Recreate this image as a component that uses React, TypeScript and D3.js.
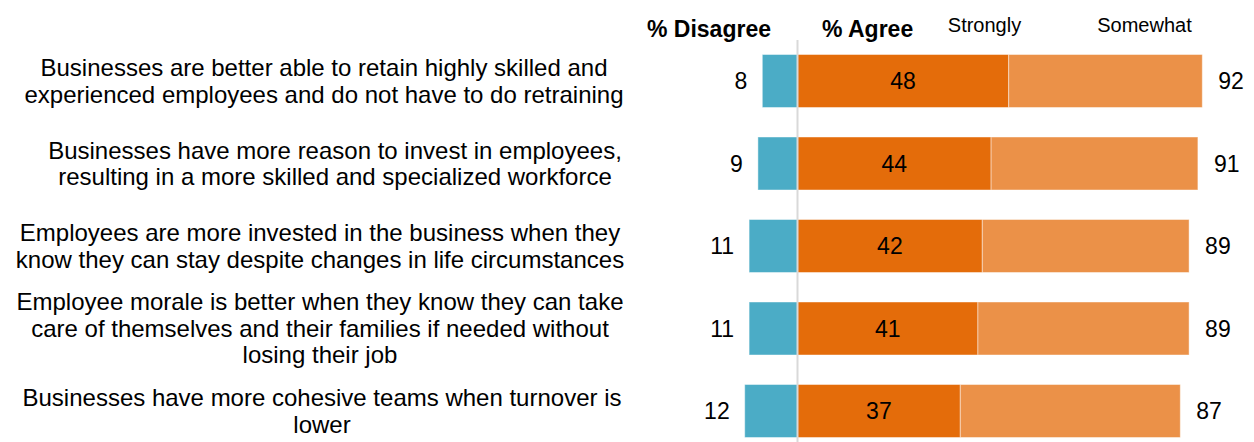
import React from "react";
import * as d3 from "d3";

const categories: string[][] = [
  ["Businesses are better able to retain highly skilled and", "experienced employees and do not have to do retraining"],
  ["Businesses have more reason to invest in employees,", "resulting in a more skilled and specialized workforce"],
  ["Employees are more invested in the business when they", "know they can stay despite changes in life circumstances"],
  ["Employee morale is better when they know they can take", "care of themselves and their families if needed without", "losing their job"],
  ["Businesses have more cohesive teams when turnover is", "lower"],
];
const disagree = [8, 9, 11, 11, 12];
const strongly = [48, 44, 42, 41, 37];
const totalAgree = [92, 91, 89, 89, 87];

const labelCenters = [324, 335, 320, 320, 322];

const W = 1254;
const H = 442;
const FONT = "'Liberation Sans', Arial, Helvetica, sans-serif";
const BLUE = "#4BACC6";
const DARK = "#E46C0A";
const LIGHT = "#EB9148";

export default function App() {
  const x = d3.scaleLinear().domain([-15, 100]).range([797.5 - 66, 797.5 + 440]);
  const idx = categories.map((_, i) => i);
  const y = d3.scalePoint<number>().domain(idx).range([39.75, 452.25]).padding(0.5);
  const barH = 53;
  const lineH = 26.5;
  const zero = x(0);

  return (
    <svg width={W} height={H} style={{ position: "absolute", left: 0, top: 0, background: "#fff" }} fontFamily={FONT}>
      {/* headers */}
      <text x={771} y={37} textAnchor="end" fontSize={23} fontWeight="bold" fill="#000">% Disagree</text>
      <text x={822} y={37} textAnchor="start" fontSize={23} fontWeight="bold" fill="#000">% Agree</text>
      <text x={984.5} y={32} textAnchor="middle" fontSize={20} fill="#000">Strongly</text>
      <text x={1144.5} y={32} textAnchor="middle" fontSize={20} fill="#000">Somewhat</text>

      {idx.map((i) => {
        const cy = y(i)!;
        const top = cy - barH / 2;
        const lines = categories[i];
        return (
          <g key={i}>
            {lines.map((ln, j) => (
              <text
                key={j}
                x={labelCenters[i]}
                y={cy + (j - (lines.length - 1) / 2) * lineH}
                dy="0.35em"
                textAnchor="middle"
                fontSize={24}
                fill="#000"
              >
                {ln}
              </text>
            ))}
            <rect x={x(-disagree[i])} y={top} width={zero - x(-disagree[i])} height={barH} fill={BLUE} stroke="rgba(255,255,255,0.45)" strokeWidth={1} />
            <rect x={zero} y={top} width={x(strongly[i]) - zero} height={barH} fill={DARK} stroke="rgba(255,255,255,0.45)" strokeWidth={1} />
            <rect x={x(strongly[i])} y={top} width={x(totalAgree[i]) - x(strongly[i])} height={barH} fill={LIGHT} stroke="rgba(255,255,255,0.45)" strokeWidth={1} />
            <text x={x(-disagree[i]) - 15} y={cy} dy="0.35em" textAnchor="end" fontSize={23} fill="#000">{disagree[i]}</text>
            <text x={(zero + x(strongly[i])) / 2} y={cy} dy="0.35em" textAnchor="middle" fontSize={23} fill="#000">{strongly[i]}</text>
            <text x={x(totalAgree[i]) + 16} y={cy} dy="0.35em" textAnchor="start" fontSize={23} fill="#000">{totalAgree[i]}</text>
          </g>
        );
      })}
      <line x1={zero} x2={zero} y1={40} y2={H} stroke="#D9D9D9" strokeWidth={2} />
    </svg>
  );
}
